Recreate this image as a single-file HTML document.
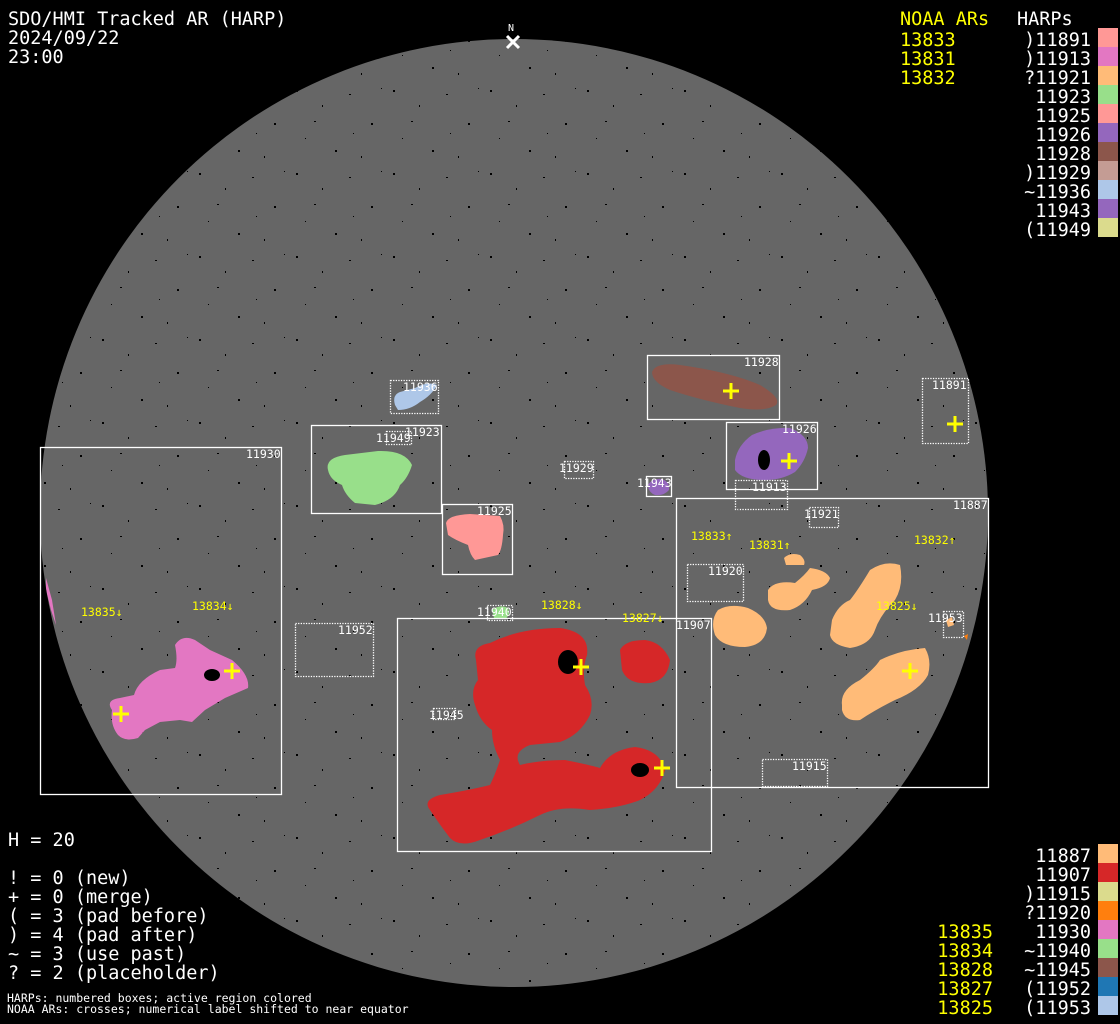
<!DOCTYPE html>
<html><head><meta charset="utf-8"><style>
html,body{margin:0;padding:0;background:#000;}
svg{display:block;}
text{font-family:"DejaVu Sans Mono","Liberation Mono",monospace;}
.big{font-size:18.5px;fill:#fff;}
.y{fill:#ffff00;}
.lbl{font-size:11.5px;fill:#fff;}
.ylb{font-size:11.5px;fill:#ffff00;}
.sm{font-size:11.5px;fill:#fff;}
.bx{fill:none;stroke:#fff;stroke-width:1.3;}
.dt{fill:none;stroke:#fff;stroke-width:1.3;stroke-dasharray:1.3 1.3;}
.cr{stroke:#ffff00;stroke-width:3;}
</style></head><body>
<svg width="1120" height="1024" viewBox="0 0 1120 1024" xmlns="http://www.w3.org/2000/svg">
<defs>
<pattern id="dots" width="97" height="83" patternUnits="userSpaceOnUse">
<rect x="5" y="7" width="2" height="2" fill="#000"/>
<rect x="31" y="22" width="1" height="2" fill="#000"/>
<rect x="58" y="11" width="2" height="1" fill="#000"/>
<rect x="80" y="40" width="2" height="2" fill="#000"/>
<rect x="14" y="55" width="1" height="1" fill="#000"/>
<rect x="44" y="67" width="2" height="2" fill="#000"/>
<rect x="70" y="73" width="1" height="2" fill="#000"/>
<rect x="90" y="5" width="1" height="1" fill="#000"/>
<rect x="23" y="38" width="2" height="1" fill="#000"/>
<rect x="62" y="50" width="1" height="1" fill="#000"/>
</pattern>
<clipPath id="disk"><circle cx="514" cy="513" r="474"/></clipPath>
</defs>
<rect width="1120" height="1024" fill="#000"/>
<circle cx="514" cy="513" r="474" fill="#666"/>
<circle cx="514" cy="513" r="474" fill="url(#dots)"/>

<g clip-path="url(#disk)">
<path d="M46,578 L52,600 L56,625 L51,610 L46,590Z" fill="#e377c2"/>
<path d="M112,710 Q105,700 120,698 L134,695 Q138,680 160,670 L175,668 Q178,660 175,645 Q182,634 195,640 L210,650 L232,660 Q250,675 248,688 L225,698 L205,710 L192,722 L180,720 L160,722 L145,730 L138,738 Q125,742 118,735 Q110,725 112,710Z" fill="#e377c2"/>
<path d="M328,470 Q325,458 345,455 L378,451 Q405,450 412,465 Q408,478 400,485 Q395,500 375,505 L355,503 Q345,495 342,485 Q330,480 328,470Z" fill="#98df8a"/>
<path d="M395,405 Q392,395 400,392 L415,388 Q428,381 437,385 Q432,395 420,402 Q410,410 398,410Z" fill="#aec7e8"/>
<path d="M446,523 Q448,515 470,514 L500,516 Q505,525 503,535 Q502,550 498,555 L475,560 Q470,555 468,545 Q455,540 448,535Z" fill="#ff9896"/>
<path d="M652,372 Q656,362 680,365 Q730,372 760,385 Q782,398 776,405 Q765,412 740,408 Q700,400 670,390 Q652,382 652,372Z" fill="#8c564b"/>
<path d="M735,460 Q738,445 752,435 Q770,427 790,428 Q808,435 808,448 Q805,462 795,472 Q782,480 765,480 Q742,480 735,470Z" fill="#9467bd"/>
<path d="M648,485 Q652,478 662,479 Q670,482 669,490 Q664,496 655,495 Q648,492 648,485Z" fill="#9467bd"/>
<path d="M492,610 Q500,604 508,608 Q511,615 505,619 L494,618Z" fill="#98df8a"/>
<path d="M476,660 Q472,646 490,643 Q520,628 560,628 Q590,632 587,655 Q582,668 585,685 Q595,700 590,715 Q580,735 560,742 L530,745 Q512,752 520,765 Q540,760 565,760 Q590,765 600,768 Q610,750 635,747 Q660,750 665,770 Q660,790 640,800 Q620,808 590,810 Q560,805 540,815 Q510,830 480,840 Q460,848 450,838 Q440,825 430,810 Q422,800 440,795 Q470,790 490,785 Q495,775 500,760 Q492,745 492,730 Q480,722 475,705 Q470,690 478,680Z" fill="#d62728"/>
<path d="M620,650 Q625,640 645,640 Q662,642 670,660 Q668,680 650,683 Q628,685 622,670Z" fill="#d62728"/>
<ellipse cx="568" cy="662" rx="10" ry="12" fill="#000"/>
<ellipse cx="640" cy="770" rx="9" ry="7" fill="#000"/>
<ellipse cx="212" cy="675" rx="8" ry="6" fill="#000"/>
<ellipse cx="764" cy="460" rx="6" ry="10" fill="#000"/>
<path d="M718,610 Q730,603 748,608 Q765,615 767,628 Q765,645 745,647 Q722,647 715,635 Q710,620 718,610Z" fill="#ffbb78"/>
<path d="M768,590 Q775,580 795,583 Q805,575 810,568 Q826,570 830,578 Q828,587 812,590 Q805,605 790,610 Q770,612 768,600Z" fill="#ffbb78"/>
<path d="M784,558 Q790,552 800,555 Q806,560 804,565 L786,565Z" fill="#ffbb78"/>
<path d="M832,620 Q838,605 850,600 Q858,590 870,570 Q885,560 900,565 Q904,585 895,600 Q880,615 875,630 Q870,645 850,648 Q832,645 830,635Z" fill="#ffbb78"/>
<path d="M842,705 Q840,690 860,680 Q875,668 880,660 Q900,650 925,648 Q932,660 928,675 Q920,690 895,700 Q875,710 860,720 Q845,722 842,710Z" fill="#ffbb78"/>
<path d="M946,620 L952,617 L954,625 L948,627Z" fill="#ffbb78"/>
<path d="M964,636 L968,634 L967,640Z" fill="#ff7f0e"/>
</g>

<rect class="bx" x="40.5" y="447.5" width="241" height="347"/>
<rect class="bx" x="311.5" y="425.5" width="130" height="88"/>
<rect class="bx" x="442.5" y="504.5" width="70" height="70"/>
<rect class="bx" x="647.5" y="355.5" width="132" height="64"/>
<rect class="bx" x="726.5" y="422.5" width="91" height="67"/>
<rect class="bx" x="646.5" y="476.5" width="25" height="20"/>
<rect class="bx" x="676.5" y="498.5" width="312" height="289"/>
<rect class="bx" x="397.5" y="618.5" width="314" height="233"/>
<rect class="dt" x="390.5" y="380.5" width="48" height="33"/>
<rect class="dt" x="386.5" y="431.5" width="25" height="13"/>
<rect class="dt" x="564.5" y="461.5" width="29" height="17"/>
<rect class="dt" x="735.5" y="480.5" width="52" height="29"/>
<rect class="dt" x="922.5" y="378.5" width="46" height="65"/>
<rect class="dt" x="809.5" y="507.5" width="29" height="20"/>
<rect class="dt" x="687.5" y="564.5" width="56" height="37"/>
<rect class="dt" x="943.5" y="611.5" width="20" height="26"/>
<rect class="dt" x="295.5" y="623.5" width="78" height="53"/>
<rect class="dt" x="487.5" y="605.5" width="25" height="15"/>
<rect class="dt" x="433.5" y="708.5" width="22" height="11"/>
<rect class="dt" x="762.5" y="759.5" width="65" height="27"/>

<g class="lbl">
<text x="246" y="458">11930</text>
<text x="405" y="436">11923</text>
<text x="376" y="442">11949</text>
<text x="403" y="391">11936</text>
<text x="477" y="515">11925</text>
<text x="559" y="472">11929</text>
<text x="637" y="487">11943</text>
<text x="744" y="366">11928</text>
<text x="782" y="433">11926</text>
<text x="752" y="491">11913</text>
<text x="932" y="389">11891</text>
<text x="953" y="509">11887</text>
<text x="804" y="518">11921</text>
<text x="708" y="575">11920</text>
<text x="928" y="622">11953</text>
<text x="676" y="629">11907</text>
<text x="338" y="634">11952</text>
<text x="477" y="616">11940</text>
<text x="429" y="719">11945</text>
<text x="792" y="770">11915</text>
</g>
<g class="ylb">
<text x="81" y="616">13835↓</text>
<text x="192" y="610">13834↓</text>
<text x="541" y="609">13828↓</text>
<text x="622" y="622">13827↓</text>
<text x="691" y="540">13833↑</text>
<text x="749" y="549">13831↑</text>
<text x="914" y="544">13832↑</text>
<text x="876" y="610">13825↓</text>
</g>
<g class="cr">
<path d="M113,714h16M121,706v16"/>
<path d="M224,671h16M232,663v16"/>
<path d="M573,667h16M581,659v16"/>
<path d="M654,768h16M662,760v16"/>
<path d="M723,391h16M731,383v16"/>
<path d="M781,461h16M789,453v16"/>
<path d="M947,424h16M955,416v16"/>
<path d="M902,671h16M910,663v16"/>
</g>
<path d="M507,36l12,12M519,36l-12,12" stroke="#fff" stroke-width="3"/>
<text x="508" y="31" style="font-size:10px;fill:#fff">N</text>

<text class="big" x="8" y="25">SDO/HMI Tracked AR (HARP)</text>
<text class="big" x="8" y="44">2024/09/22</text>
<text class="big" x="8" y="63">23:00</text>

<text class="big y" x="900" y="25">NOAA ARs</text>
<text class="big" x="1017" y="25">HARPs</text>
<g class="big y">
<text x="900" y="46">13833</text>
<text x="900" y="65">13831</text>
<text x="900" y="84">13832</text>
</g>
<g class="big" text-anchor="end">
<text x="1091" y="46">)11891</text>
<text x="1091" y="65">)11913</text>
<text x="1091" y="84">?11921</text>
<text x="1091" y="103">11923</text>
<text x="1091" y="122">11925</text>
<text x="1091" y="141">11926</text>
<text x="1091" y="160">11928</text>
<text x="1091" y="179">)11929</text>
<text x="1091" y="198">~11936</text>
<text x="1091" y="217">11943</text>
<text x="1091" y="236">(11949</text>
</g>
<rect x="1098" y="28" width="20" height="19" fill="#ff9896"/>
<rect x="1098" y="47" width="20" height="19" fill="#e377c2"/>
<rect x="1098" y="66" width="20" height="19" fill="#ffbb78"/>
<rect x="1098" y="85" width="20" height="19" fill="#98df8a"/>
<rect x="1098" y="104" width="20" height="19" fill="#ff9896"/>
<rect x="1098" y="123" width="20" height="19" fill="#9467bd"/>
<rect x="1098" y="142" width="20" height="19" fill="#8c564b"/>
<rect x="1098" y="161" width="20" height="19" fill="#c49c94"/>
<rect x="1098" y="180" width="20" height="19" fill="#aec7e8"/>
<rect x="1098" y="199" width="20" height="19" fill="#9467bd"/>
<rect x="1098" y="218" width="20" height="19" fill="#dbdb8d"/>

<g class="big" text-anchor="end">
<text x="1091" y="862">11887</text>
<text x="1091" y="881">11907</text>
<text x="1091" y="900">)11915</text>
<text x="1091" y="919">?11920</text>
<text x="1091" y="938">11930</text>
<text x="1091" y="957">~11940</text>
<text x="1091" y="976">~11945</text>
<text x="1091" y="995">(11952</text>
<text x="1091" y="1014">(11953</text>
</g>
<g class="big y" text-anchor="end">
<text x="993" y="938">13835</text>
<text x="993" y="957">13834</text>
<text x="993" y="976">13828</text>
<text x="993" y="995">13827</text>
<text x="993" y="1014">13825</text>
</g>
<rect x="1098" y="844" width="20" height="19" fill="#ffbb78"/>
<rect x="1098" y="863" width="20" height="19" fill="#d62728"/>
<rect x="1098" y="882" width="20" height="19" fill="#dbdb8d"/>
<rect x="1098" y="901" width="20" height="19" fill="#ff7f0e"/>
<rect x="1098" y="920" width="20" height="19" fill="#e377c2"/>
<rect x="1098" y="939" width="20" height="19" fill="#98df8a"/>
<rect x="1098" y="958" width="20" height="19" fill="#8c564b"/>
<rect x="1098" y="977" width="20" height="19" fill="#1f77b4"/>
<rect x="1098" y="996" width="20" height="19" fill="#aec7e8"/>

<text class="big" x="8" y="846">H = 20</text>
<text class="big" x="8" y="884">! = 0 (new)</text>
<text class="big" x="8" y="903">+ = 0 (merge)</text>
<text class="big" x="8" y="922">( = 3 (pad before)</text>
<text class="big" x="8" y="941">) = 4 (pad after)</text>
<text class="big" x="8" y="960">~ = 3 (use past)</text>
<text class="big" x="8" y="979">? = 2 (placeholder)</text>
<text class="sm" x="7" y="1002">HARPs: numbered boxes; active region colored</text>
<text class="sm" x="7" y="1013">NOAA ARs: crosses; numerical label shifted to near equator</text>
</svg>
</body></html>
